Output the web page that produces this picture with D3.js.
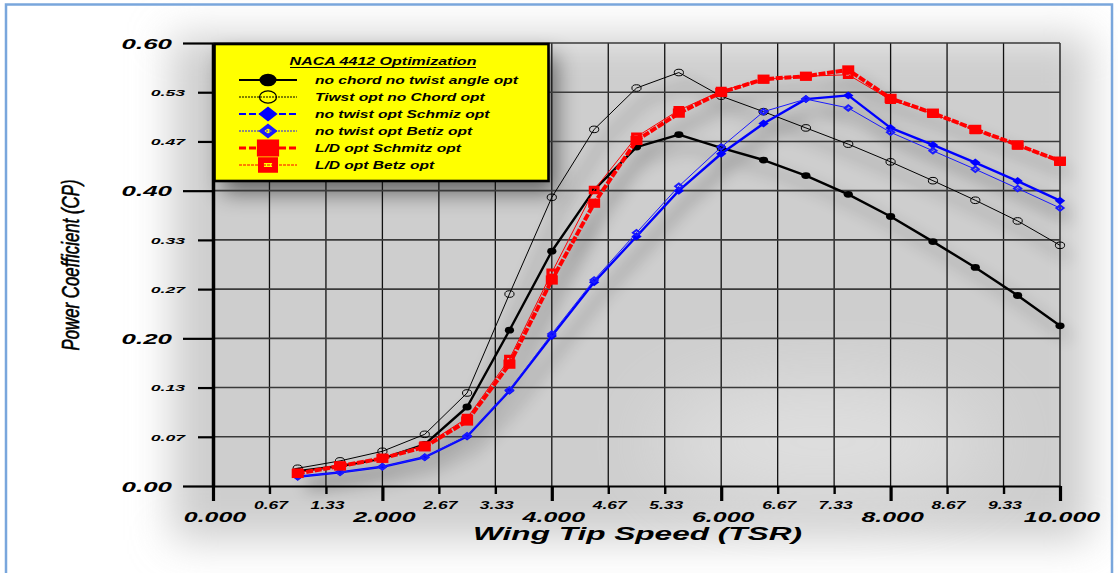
<!DOCTYPE html>
<html>
<head>
<meta charset="utf-8">
<script src="https://cdn.jsdelivr.net/npm/d3@7/dist/d3.min.js"></script>
<style>
  html, body { margin: 0; padding: 0; background: #fff; }
  svg { display: block; }
  text { font-family: "Liberation Sans", Arial, Helvetica, sans-serif; font-weight: bold; font-style: italic; fill: #000; }
</style>
</head>
<body>
<svg id="chart" width="1118" height="573"></svg>
<script>
// Tip speed ratio samples
const tsr = [1, 1.5, 2, 2.5, 3, 3.5, 4, 4.5, 5, 5.5, 6, 6.5, 7, 7.5, 8, 8.5, 9, 9.5, 10];

// Power coefficient per configuration
const cpNoChordNoTwist = [0.020, 0.027, 0.037, 0.0565, 0.107, 0.211, 0.318, 0.401, 0.459, 0.476, 0.458, 0.4415, 0.4205, 0.395, 0.365, 0.331, 0.296, 0.258, 0.217];
const cpTwistNoChord   = [0.024, 0.034, 0.047, 0.070, 0.126, 0.260, 0.391, 0.483, 0.539, 0.560, 0.528, 0.507, 0.485, 0.463, 0.439, 0.4135, 0.387, 0.359, 0.326];
const cpNoTwistSchmitz = [0.0126, 0.0185, 0.026, 0.039, 0.067, 0.129, 0.203, 0.276, 0.338, 0.400, 0.450, 0.491, 0.524, 0.529, 0.485, 0.462, 0.438, 0.413, 0.3865];
const cpNoTwistBetz    = [0.0126, 0.0185, 0.026, 0.039, 0.068, 0.130, 0.206, 0.279, 0.343, 0.406, 0.459, 0.507, 0.524, 0.512, 0.479, 0.454, 0.429, 0.403, 0.3765];
const cpLDSchmitz      = [0.017, 0.027, 0.0375, 0.053, 0.088, 0.165, 0.279, 0.383, 0.468, 0.505, 0.533, 0.551, 0.555, 0.5635, 0.525, 0.505, 0.483, 0.462, 0.440];
const cpLDBetz         = [0.018, 0.028, 0.038, 0.055, 0.092, 0.172, 0.289, 0.401, 0.473, 0.509, 0.535, 0.551, 0.555, 0.557, 0.523, 0.504, 0.482, 0.461, 0.439];

const seriesNames = [
  "no chord no twist angle opt",
  "Tiwst opt no Chord opt",
  "no twist opt Schmiz opt",
  "no twist opt Betiz opt",
  "L/D opt Schmitz opt",
  "L/D opt Betz opt"
];
const legendTitle = "NACA 4412 Optimization";

const xTickLabels = ["0.000", "0.67", "1.33", "2.000", "2.67", "3.33", "4.000", "4.67", "5.33", "6.000", "6.67", "7.33", "8.000", "8.67", "9.33", "10.000"];
const yTickLabels = ["0.00", "0.07", "0.13", "0.20", "0.27", "0.33", "0.40", "0.47", "0.53", "0.60"];
const xTitle = "Wing Tip Speed (TSR)";
const yTitle = "Power Coefficient (CP)";

// ---------------------------------------------------------------------------
const xTickValues = d3.range(xTickLabels.length).map(i => i * 2 / 3);
const yTickValues = d3.range(yTickLabels.length).map(i => i * 0.2 / 3);

const svg = d3.select("#chart");
const x = d3.scaleLinear().domain([0, 10]).range([213, 1060]);
const y = d3.scaleLinear().domain([0, 0.6]).range([486, 43]);

const series = [
  { name: seriesNames[0], values: cpNoChordNoTwist, color: "#000000", width: 2.4, dash: null,  legendDash: null,  marker: "dot" },
  { name: seriesNames[1], values: cpTwistNoChord,   color: "#000000", width: 1,   dash: null,  legendDash: "2,1", marker: "ring" },
  { name: seriesNames[2], values: cpNoTwistSchmitz, color: "#0000ff", width: 2.4, dash: null,  legendDash: "7,3", marker: "diamond" },
  { name: seriesNames[3], values: cpNoTwistBetz,    color: "#1a1aff", width: 1,   dash: null,  legendDash: "2,1", marker: "diamondOpen" },
  { name: seriesNames[4], values: cpLDSchmitz,      color: "#ff0000", width: 4,   dash: "7,1.6", legendDash: "7,3", marker: "square" },
  { name: seriesNames[5], values: cpLDBetz,         color: "#ff0000", width: 1,   dash: null,  legendDash: "3,1", marker: "squareOpen" }
];

// ---- filters --------------------------------------------------------------
const defs = svg.append("defs");
[["halo", 20], ["boxShadow", 11], ["lineShadow", 8], ["glow", 40]].forEach(([id, s]) => {
  defs.append("filter").attr("id", id)
    .attr("x", "-50%").attr("y", "-50%").attr("width", "200%").attr("height", "200%")
    .append("feGaussianBlur").attr("stdDeviation", s);
});

// ---- soft grey backdrop -----------------------------------------------------
svg.append("rect").attr("width", 1118).attr("height", 573).attr("fill", "#ffffff");
svg.append("rect")
  .attr("x", 172).attr("y", 36).attr("width", 1090 - 172).attr("height", 540 - 36)
  .attr("fill", "#cecece").attr("filter", "url(#halo)");
svg.append("ellipse")
  .attr("cx", x(7.2)).attr("cy", y(0.06)).attr("rx", 170).attr("ry", 60)
  .attr("fill", "#ffffff").attr("opacity", 0.35).attr("filter", "url(#glow)");

// legend box geometry
const lg = { x: 214.5, y: 44, w: 334, h: 137 };

// legend drop shadow
svg.append("rect")
  .attr("x", lg.x + 8).attr("y", lg.y + 12).attr("width", lg.w).attr("height", lg.h)
  .attr("fill", "#000").attr("opacity", 0.5).attr("filter", "url(#boxShadow)");

// ---- line shadows -----------------------------------------------------------
const line = d3.line().x((d, i) => x(tsr[i])).y(d => y(d));
const shadowG = svg.append("g")
  .attr("transform", "translate(9,12)")
  .attr("filter", "url(#lineShadow)")
  .attr("opacity", 0.25);
series.forEach(s => {
  shadowG.append("path").attr("d", line(s.values))
    .attr("fill", "none").attr("stroke", "#000").attr("stroke-width", 5);
});

// ---- grid ------------------------------------------------------------------
const grid = svg.append("g");
grid.selectAll("line.v").data(xTickValues.slice(1)).join("line")
  .attr("x1", d => x(d)).attr("x2", d => x(d))
  .attr("y1", y(0.6)).attr("y2", y(0))
  .attr("stroke", "#111").attr("stroke-width", 1.3);
grid.selectAll("line.h").data(yTickValues.slice(1)).join("line")
  .attr("x1", x(0)).attr("x2", x(10))
  .attr("y1", d => y(d)).attr("y2", d => y(d))
  .attr("stroke", "#3a3a3a").attr("stroke-width", 1.6);

// ---- markers -----------------------------------------------------------------
function drawMarker(g, kind, color, k) {
  switch (kind) {
    case "dot":
      g.append("ellipse").attr("rx", 4.6 * k).attr("ry", 3.4 * k).attr("fill", color);
      break;
    case "ring":
      g.append("ellipse").attr("rx", 4.6 * k).attr("ry", 3.3 * k)
        .attr("fill", "none").attr("stroke", color).attr("stroke-width", k > 1 ? 1.3 : 1);
      break;
    case "diamond": {
      const a = 5.2 * k, b = 4 * k;
      g.append("path").attr("d", `M${-a},0L0,${-b}L${a},0L0,${b}Z`).attr("fill", color);
      break;
    }
    case "diamondOpen": {
      const a = 5.2 * k, b = 4 * k, c = 2.1 * k, e = 1.4 * k;
      g.append("path")
        .attr("d", `M${-a},0L0,${-b}L${a},0L0,${b}Z M${-c},0L0,${e}L${c},0L0,${-e}Z`)
        .attr("fill", color).attr("fill-rule", "evenodd");
      break;
    }
    case "square": {
      const a = 6 * k, b = 4.6 * k;
      g.append("rect").attr("x", -a).attr("y", -b).attr("width", 2 * a).attr("height", 2 * b).attr("fill", color);
      break;
    }
    case "squareOpen": {
      const a = 5.4 * k, b = 4.2 * k, c = 2.2 * k, e = 1.1 * k;
      g.append("path")
        .attr("d", `M${-a},${-b}H${a}V${b}H${-a}Z M${-c},${-e}V${e}H${c}V${-e}Z`)
        .attr("fill", color).attr("fill-rule", "evenodd");
      break;
    }
  }
}

// ---- series ------------------------------------------------------------------
const plotG = svg.append("g");
series.forEach(s => {
  const g = plotG.append("g");
  g.append("path").attr("d", line(s.values))
    .attr("fill", "none").attr("stroke", s.color).attr("stroke-width", s.width)
    .attr("stroke-linejoin", "round")
    .attr("stroke-dasharray", s.dash);
  s.values.forEach((v, i) => {
    const m = g.append("g").attr("transform", `translate(${x(tsr[i])},${y(v)})`);
    drawMarker(m, s.marker, s.color, 1);
  });
});

// ---- axes --------------------------------------------------------------------
const yAxis = svg.append("g").attr("transform", `translate(${x(0)},0)`)
  .call(d3.axisLeft(y).tickValues(yTickValues).tickFormat((d, i) => yTickLabels[i]).tickSizeOuter(0))
  .attr("font-family", null).attr("font-size", null);
yAxis.select(".domain").attr("stroke", "#000").attr("stroke-width", 3.5);
yAxis.selectAll(".tick").each(function (d, i) {
  const major = i % 3 === 0;
  const t = d3.select(this);
  t.select("line").attr("x2", major ? -30 : -15).attr("stroke", "#000").attr("stroke-width", 2.2);
  t.select("text")
    .attr("x", null).attr("dy", null)
    .attr("font-size", major ? 14.4 : 9.8)
    .attr("dominant-baseline", "central")
    .attr("text-anchor", "end")
    .attr("transform", `translate(${major ? -41 : -28},0) scale(1.8,1)`);
});

const xAxis = svg.append("g").attr("transform", `translate(0,${y(0)})`)
  .call(d3.axisBottom(x).tickValues(xTickValues).tickFormat((d, i) => xTickLabels[i]).tickSizeOuter(0))
  .attr("font-family", null).attr("font-size", null);
xAxis.select(".domain").attr("stroke", "#000").attr("stroke-width", 2);
xAxis.selectAll(".tick").each(function (d, i) {
  const major = i % 3 === 0;
  const t = d3.select(this);
  t.select("line").attr("y2", major ? 15 : 8).attr("stroke", "#000").attr("stroke-width", major ? 3.2 : 2.4);
  t.select("text")
    .attr("y", null).attr("dy", null)
    .attr("font-size", major ? 15.4 : 10)
    .attr("text-anchor", "middle")
    .attr("transform", `translate(${major ? 1.5 : 1},${major ? 35.5 : 22.5}) scale(${major ? 1.62 : 1.75},1)`);
});

// axis titles
svg.append("text")
  .attr("text-anchor", "middle")
  .attr("font-size", 18.8)
  .attr("transform", `translate(${(x(0) + x(10)) / 2 + 1},540) scale(1.68,1)`)
  .text(xTitle);

svg.append("text")
  .attr("text-anchor", "middle")
  .attr("font-size", 23)
  .style("font-family", "'Liberation Sans Narrow', 'Liberation Sans', Arial, sans-serif")
  .style("font-weight", "normal")
  .attr("stroke", "#000").attr("stroke-width", 0.6)
  .attr("textLength", 171).attr("lengthAdjust", "spacingAndGlyphs")
  .attr("transform", `translate(79,${y(0.3) + 0.5}) rotate(-90)`)
  .text(yTitle);

// ---- legend ------------------------------------------------------------------
const legend = svg.append("g");
legend.append("rect")
  .attr("x", lg.x).attr("y", lg.y).attr("width", lg.w).attr("height", lg.h)
  .attr("fill", "#ffff00").attr("stroke", "#000").attr("stroke-width", 2.6);

legend.append("text")
  .attr("text-anchor", "middle")
  .attr("font-size", 10)
  .attr("transform", `translate(383,65) scale(1.6,1)`)
  .text(legendTitle);
legend.append("line")
  .attr("x1", 290).attr("x2", 476).attr("y1", 67.5).attr("y2", 67.5)
  .attr("stroke", "#000").attr("stroke-width", 1);

series.forEach((s, i) => {
  const cy = 80 + i * 17;
  const row = legend.append("g");
  row.append("line")
    .attr("x1", 239).attr("x2", 297).attr("y1", cy).attr("y2", cy)
    .attr("stroke", s.color)
    .attr("stroke-width", s.width > 3 ? 3 : (s.width > 2 ? 2.2 : 1))
    .attr("stroke-dasharray", s.legendDash);
  const m = row.append("g").attr("transform", `translate(268,${cy})`);
  drawMarker(m, s.marker, s.color, 1.85);
  row.append("text")
    .attr("font-size", 10.8)
    .attr("transform", `translate(315,${cy + 4}) scale(1.44,1)`)
    .text(s.name);
});

// ---- frame -----------------------------------------------------------------
svg.append("rect")
  .attr("x", 6).attr("y", 4.5).attr("width", 1106).attr("height", 620)
  .attr("fill", "none").attr("stroke", "#79a6dc").attr("stroke-width", 2.5);
</script>
</body>
</html>
